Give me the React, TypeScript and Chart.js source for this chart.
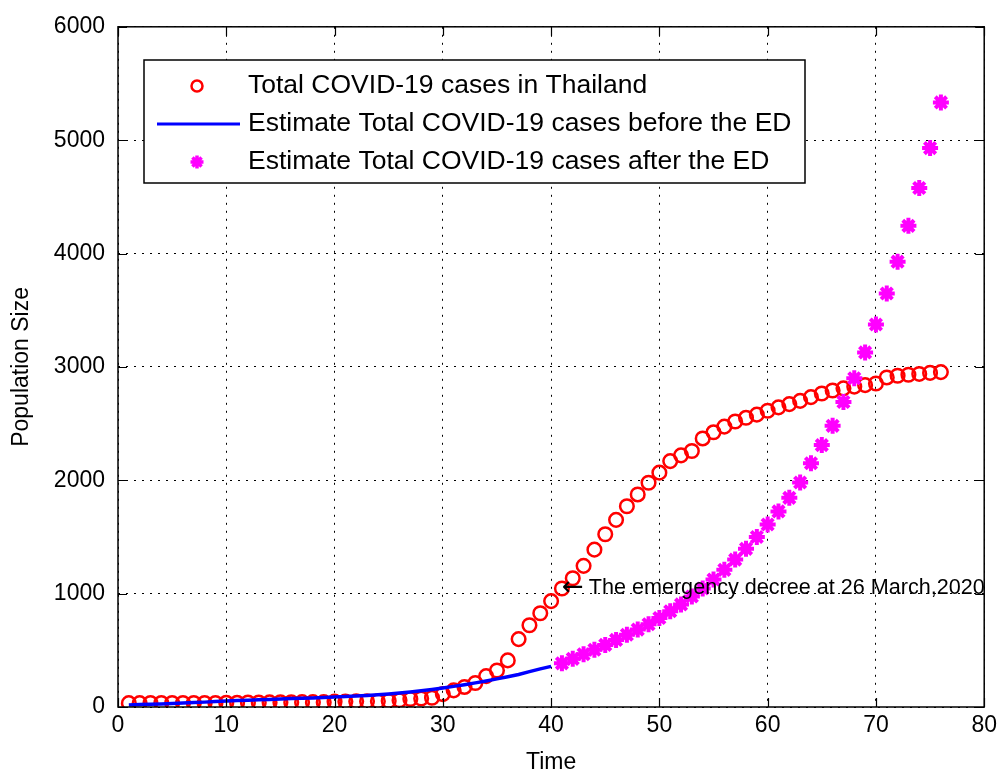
import React, { useEffect, useRef } from "react";
import { Chart, registerables } from "chart.js";

Chart.register(...registerables);

const FONT = "'Liberation Sans', Arial, Helvetica, sans-serif";

// ---- data ----
const thailandDays = [
  1, 2, 3, 4, 5, 6, 7, 8, 9, 10, 11, 12, 13, 14, 15, 16, 17, 18, 19, 20,
  21, 22, 23, 24, 25, 26, 27, 28, 29, 30, 31, 32, 33, 34, 35, 36, 37, 38, 39, 40,
  41, 42, 43, 44, 45, 46, 47, 48, 49, 50, 51, 52, 53, 54, 55, 56, 57, 58, 59, 60,
  61, 62, 63, 64, 65, 66, 67, 68, 69, 70, 71, 72, 73, 74, 75, 76,
];
const thailandCases = [
  34, 34, 35, 35, 35, 35, 35, 35, 35, 37, 37, 40, 40, 41, 42, 42, 43, 43, 43, 47,
  48, 50, 50, 50, 53, 59, 70, 75, 82, 114, 147, 177, 212, 272, 322, 411, 599, 721, 827, 934,
  1045, 1136, 1245, 1388, 1524, 1651, 1771, 1875, 1978, 2067, 2169, 2220, 2258, 2369, 2423, 2473, 2518, 2551, 2579, 2613,
  2643, 2672, 2700, 2733, 2765, 2792, 2811, 2826, 2839, 2854, 2907, 2922, 2931, 2938, 2947, 2954,
];

const beforeEdDays = [
  1, 2, 3, 4, 5, 6, 7, 8, 9, 10, 11, 12, 13, 14, 15, 16, 17, 18, 19, 20,
  21, 22, 23, 24, 25, 26, 27, 28, 29, 30, 31, 32, 33, 34, 35, 36, 37, 38, 39, 40,
];
const beforeEdEstimate = [
  18, 21, 24, 27, 31, 35, 39, 43, 48, 53, 57, 60, 63, 67, 70, 74, 77, 80, 84, 88,
  92, 97, 102, 108, 115, 123, 132, 143, 155, 168, 182, 197, 213, 230, 248, 267, 287, 312, 336, 358,
];

const afterEdDays = [
  41, 42, 43, 44, 45, 46, 47, 48, 49, 50, 51, 52, 53, 54, 55, 56, 57, 58,
  59, 60, 61, 62, 63, 64, 65, 66, 67, 68, 69, 70, 71, 72, 73, 74, 75, 76,
];
const afterEdEstimate = [
  385, 425, 465, 505, 548, 592, 637, 683, 730, 785, 845, 905, 975, 1045, 1125, 1210, 1300, 1395,
  1500, 1610, 1725, 1845, 1980, 2150, 2310, 2480, 2690, 2900, 3128, 3374, 3647, 3928, 4244, 4578, 4930, 5333,
];

const seriesLabels = [
  "Total COVID-19 cases in Thailand",
  "Estimate Total COVID-19 cases before the ED",
  "Estimate Total COVID-19 cases after the ED",
];

const annotationArrow = "\u2190";
const annotationText = "The emergency decree at 26 March,2020";
const annotationX = 41;
const annotationY = 1045;

const xAxisTitle = "Time";
const yAxisTitle = "Population Size";

const toPoints = (xs: number[], ys: number[]) => xs.map((x, i) => ({ x, y: ys[i] }));

function drawStar(ctx: CanvasRenderingContext2D, x: number, y: number, r: number) {
  ctx.beginPath();
  ctx.moveTo(x - r, y);
  ctx.lineTo(x + r, y);
  ctx.moveTo(x, y - r);
  ctx.lineTo(x, y + r);
  const d = r * Math.SQRT1_2;
  ctx.moveTo(x - d, y - d);
  ctx.lineTo(x + d, y + d);
  ctx.moveTo(x - d, y + d);
  ctx.lineTo(x + d, y - d);
  ctx.stroke();
}

const framePlugin = {
  id: "matlabFrame",
  afterDraw(chart: any) {
    const { ctx, chartArea: a, scales } = chart;
    const xs = scales.x;
    const ys = scales.y;
    ctx.save();

    // annotation text anchored at data point
    const ax = xs.getPixelForValue(annotationX);
    const ay = ys.getPixelForValue(annotationY);
    ctx.fillStyle = "#000";
    ctx.textAlign = "left";
    ctx.textBaseline = "middle";
    ctx.font = `26px 'DejaVu Sans', ${FONT}`;
    ctx.fillText(annotationArrow, ax, ay);
    const arrowW = ctx.measureText(annotationArrow).width;
    ctx.font = `21.6px ${FONT}`;
    ctx.fillText(annotationText, ax + arrowW + 5, ay);

    // axes box
    ctx.strokeStyle = "#000";
    ctx.lineWidth = 1.5;
    ctx.strokeRect(a.left, a.top, a.right - a.left, a.bottom - a.top);

    // inward tick marks
    const tl = 9;
    ctx.lineWidth = 1.2;
    ctx.beginPath();
    xs.ticks.forEach((t: any) => {
      const px = Math.round(xs.getPixelForValue(t.value)) + 0.5;
      ctx.moveTo(px, a.bottom);
      ctx.lineTo(px, a.bottom - tl);
      ctx.moveTo(px, a.top);
      ctx.lineTo(px, a.top + tl);
    });
    ys.ticks.forEach((t: any) => {
      const py = Math.round(ys.getPixelForValue(t.value)) + 0.5;
      ctx.moveTo(a.left, py);
      ctx.lineTo(a.left + tl, py);
      ctx.moveTo(a.right, py);
      ctx.lineTo(a.right - tl, py);
    });
    ctx.stroke();

    // legend box
    const lx = 144, ly = 60, lw = 661, lh = 123;
    ctx.fillStyle = "#fff";
    ctx.fillRect(lx, ly, lw, lh);
    ctx.strokeStyle = "#000";
    ctx.lineWidth = 1.5;
    ctx.strokeRect(lx, ly, lw, lh);

    const rowStart = 86;
    const rowStep = 38;
    chart.data.datasets.forEach((ds: any, i: number) => {
      const cy = rowStart + i * rowStep;
      const cx = 197;
      if (ds.showLine) {
        ctx.strokeStyle = ds.borderColor;
        ctx.lineWidth = 3;
        ctx.beginPath();
        ctx.moveTo(157, cy);
        ctx.lineTo(240, cy);
        ctx.stroke();
      } else if (ds.pointStyle === "star") {
        ctx.strokeStyle = ds.pointBorderColor;
        ctx.lineWidth = 3.5;
        drawStar(ctx, cx, cy, 6.5);
      } else {
        ctx.strokeStyle = ds.pointBorderColor;
        ctx.lineWidth = 2.5;
        ctx.beginPath();
        ctx.arc(cx, cy, 5.5, 0, Math.PI * 2);
        ctx.stroke();
      }
      ctx.fillStyle = "#000";
      ctx.font = `26.5px ${FONT}`;
      ctx.textAlign = "left";
      ctx.textBaseline = "middle";
      ctx.fillText(ds.label, 248, cy);
    });

    ctx.restore();
  },
};

export default function App() {
  const canvasRef = useRef<HTMLCanvasElement | null>(null);

  useEffect(() => {
    if (!canvasRef.current) return;
    const gridColor = "#000";
    const chart = new Chart(canvasRef.current, {
      type: "scatter",
      data: {
        datasets: [
          {
            label: seriesLabels[0],
            data: toPoints(thailandDays, thailandCases),
            showLine: false,
            pointStyle: "circle",
            pointRadius: 6.8,
            pointBorderWidth: 2.5,
            pointBorderColor: "#ff0000",
            pointBackgroundColor: "rgba(0,0,0,0)",
            borderColor: "#ff0000",
            order: 2,
          },
          {
            label: seriesLabels[1],
            data: toPoints(beforeEdDays, beforeEdEstimate),
            showLine: true,
            borderColor: "#0000ff",
            borderWidth: 3.5,
            pointRadius: 0,
            tension: 0,
            order: 1,
          },
          {
            label: seriesLabels[2],
            data: toPoints(afterEdDays, afterEdEstimate),
            showLine: false,
            pointStyle: "star",
            pointRadius: 8,
            pointBorderWidth: 4,
            pointBorderColor: "#ff00ff",
            pointBackgroundColor: "#ff00ff",
            borderColor: "#ff00ff",
            order: 0,
          },
        ],
      },
      options: {
        responsive: false,
        animation: false,
        events: [],
        layout: { padding: { top: 24, right: 17, bottom: 0, left: 0 } },
        plugins: {
          legend: { display: false },
          tooltip: { enabled: false },
        },
        scales: {
          x: {
            type: "linear",
            min: 0,
            max: 80,
            ticks: {
              stepSize: 10,
              color: "#000",
              font: { family: FONT, size: 23 },
              padding: 5,
              maxRotation: 0,
              callback: (v: any) => String(v),
            },
            grid: { color: gridColor, lineWidth: 1, drawTicks: false },
            border: { display: false, dash: [2, 6] },
            title: {
              display: true,
              text: xAxisTitle,
              color: "#000",
              font: { family: FONT, size: 23 },
              padding: { top: 0, bottom: 0 },
            },
            afterFit: (s: any) => {
              s.height = 69;
            },
          },
          y: {
            type: "linear",
            min: 0,
            max: 6000,
            ticks: {
              stepSize: 1000,
              color: "#000",
              font: { family: FONT, size: 23 },
              padding: 13,
              callback: (v: any) => String(v),
            },
            grid: { color: gridColor, lineWidth: 1, drawTicks: false },
            border: { display: false, dash: [2, 6] },
            title: {
              display: true,
              text: yAxisTitle,
              color: "#000",
              font: { family: FONT, size: 23 },
              padding: { top: 8, bottom: 0 },
            },
            afterFit: (s: any) => {
              s.width = 118;
            },
          },
        },
      },
      plugins: [framePlugin],
    } as any);
    return () => chart.destroy();
  }, []);

  return (
    <div style={{ position: "absolute", left: 0, top: 0, width: 1002, height: 776, background: "#fff" }}>
      <canvas ref={canvasRef} width={1002} height={776} style={{ display: "block" }} />
    </div>
  );
}
